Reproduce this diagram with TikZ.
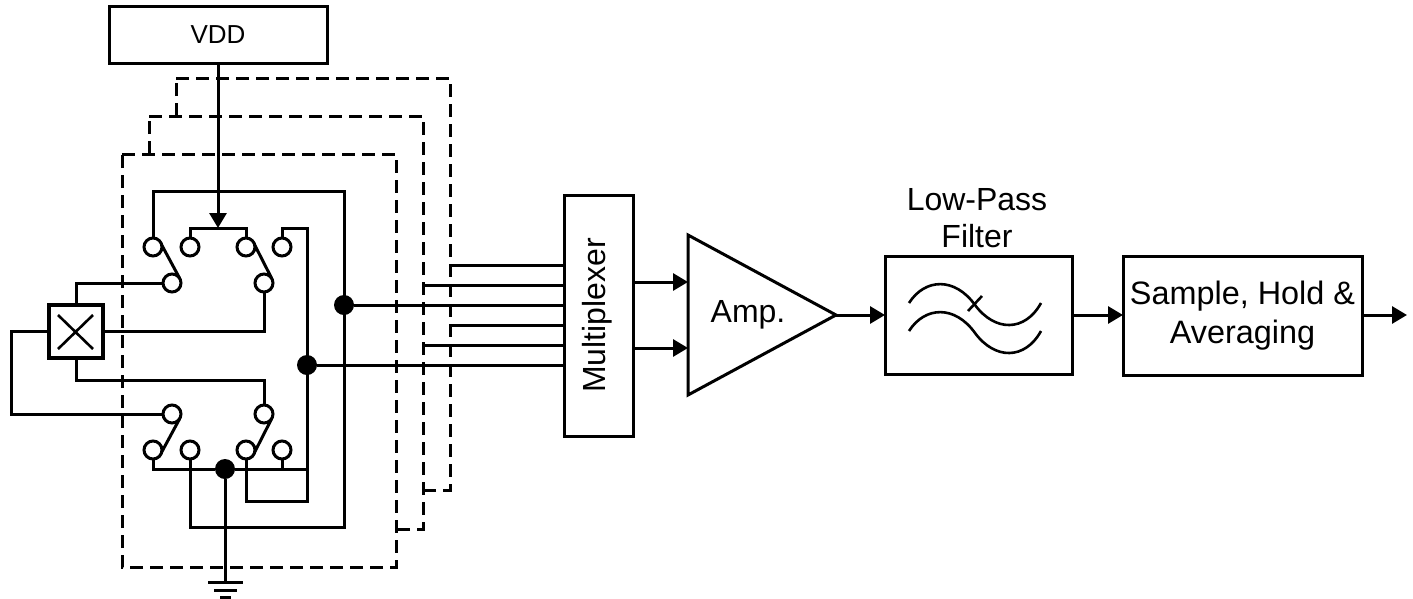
\documentclass[tikz,border=0pt]{standalone}
\usepackage{fontspec}
\setmainfont{Liberation Sans}
\usetikzlibrary{arrows.meta,calc}
\tikzset{
  wire/.style={line width=3pt,black,line join=miter},
  arrowwire/.style={wire,-{Triangle[length=15pt,width=17pt]}},
  frame/.style={line width=3pt,black,dash pattern=on 13pt off 7pt},
  blockbox/.style={draw,line width=3pt,inner sep=0pt,outer sep=0pt,align=center,font=\fontsize{32}{38}\selectfont},
  term/.style={circle,draw,fill=white,line width=3pt,minimum size=18pt,inner sep=0pt,outer sep=0pt},
  dotnode/.style={circle,fill=black,minimum size=20pt,inner sep=0pt,outer sep=0pt},
  plain/.style={inner sep=0pt,outer sep=0pt,align=center,font=\fontsize{32}{37}\selectfont}
}
\begin{document}
\begin{tikzpicture}[x=1pt,y=-1pt]
\useasboundingbox (0,0) rectangle (1413,598);

% dashed frames
\draw[frame] (176,78) -- (450,78) -- (450,490) -- (423,490);
\draw[frame] (176,116) -- (176,78);
\draw[frame] (149,116) -- (423,116) -- (423,529) -- (396,529);
\draw[frame] (149,154) -- (149,116);
\draw[frame] (122,154) -- (396,154) -- (396,567) -- (122,567) -- cycle;

% blocks
\node[blockbox,minimum width=218pt,minimum height=57pt,font=\fontsize{26}{30}\selectfont] (vdd) at (218,34.5) {VDD};
\node[blockbox,minimum width=69pt,minimum height=241pt] (mux) at (598.5,315.5) {};
\node[plain,rotate=90] (muxtext) at (597,315.5) {Multiplexer};
\node[blockbox,minimum width=187pt,minimum height=118pt] (lpf) at (978.5,315) {};
\node[blockbox,minimum width=239pt,minimum height=119pt,font=\fontsize{32.4}{39}\selectfont] (sha) at (1242.5,315.5) {Sample, Hold \&\\Averaging};
\node[plain] (lpftext) at (977,218) {Low-Pass\\Filter};
\node[draw,line width=4pt,minimum width=54pt,minimum height=53pt,inner sep=0pt,outer sep=0pt] (xb) at (76,331.5) {};

% amplifier
\coordinate (ampa) at (688,235);
\coordinate (ampb) at (688,395);
\coordinate (ampc) at (836,315);
\draw[wire] (ampa) -- (ampc) -- (ampb) -- cycle;
\node[plain] (amptext) at (748,315) {Amp.};
\coordinate (ampin1) at (688,282);
\coordinate (ampin2) at (688,348);
\coordinate (out) at (1407,315);

% terminals
\node[term] (t1) at (153,247) {};
\node[term] (t2) at (190,247) {};
\node[term] (t3) at (246,247) {};
\node[term] (t4) at (282,247) {};
\node[term] (t5) at (172,283) {};
\node[term] (t6) at (264,283) {};
\node[term] (b5) at (172,414) {};
\node[term] (b6) at (264,414) {};
\node[term] (b1) at (153,450) {};
\node[term] (b2) at (190,450) {};
\node[term] (b3) at (246,450) {};
\node[term] (b4) at (282,450) {};

% junctions and routing points
\node[dotnode] (j1) at (344,305) {};
\node[dotnode] (j2) at (307,365) {};
\node[dotnode] (j3) at (225,469) {};
\coordinate (rt) at (344,191);
\coordinate (rb) at (344,527);
\coordinate (bar) at (218,228);
\coordinate (r2t) at (307,228);
\coordinate (r2b) at (307,501);
\coordinate (gnd) at (225,582);
\coordinate (xl) at (11,331.5);
\coordinate (xbus) at (76,380.5);

% switch wiring, top
\draw[arrowwire] (vdd.south) -- (bar);
\draw[wire] (t1.north) -- (t1.north |- rt) -- (rt) -- (rb) -- (b2.south |- rb) -- (b2.south);
\draw[wire] (t2.north) -- (t2.north |- bar) -- (t3.north |- bar) -- (t3.north);
\draw[wire] (t4.north) -- (t4.north |- r2t) -- (r2t) -- (r2b) -- (b3.south |- r2b) -- (b3.south);
\draw[wire] (t1.12) -- (t5.32);
\draw[wire] (t3.12) -- (t6.32);
\draw[wire] (b5.-32) -- (b1.-12);
\draw[wire] (b6.-32) -- (b3.-12);

% crossbar
\draw[line width=2.6pt] (58,315) -- (93,349) (93,315) -- (58,349);
\draw[wire] (xb.north) -- (xb.north |- t5) -- (t5.west);
\draw[wire] (xb.east) -- (t6.south |- xb.east) -- (t6.south);
\draw[wire] (xb.west) -- (xl) -- (xl |- b5) -- (b5.west);
\draw[wire] (xb.south) -- (xbus) -- (xbus -| b6.north) -- (b6.north);

% lower bus and ground
\draw[wire] (b1.south) -- (b1.south |- j3) -- (j3);
\draw[wire] (j3) -- (r2b |- j3);
\draw[wire] (b4.south) -- (b4.south |- j3);
\draw[wire] (j3) -- (gnd);
\draw[wire] (208,582) -- (gnd) -- (243,582);
\draw[wire] (214,590) -- (237,590);
\draw[wire] (220,597) -- (231,597);

% lines to multiplexer
\coordinate (m1) at (450,265);
\coordinate (m2) at (423,285);
\coordinate (m4) at (450,325);
\coordinate (m5) at (423,345);
\draw[wire] (m1) -- (m1 -| mux.west);
\draw[wire] (m2) -- (m2 -| mux.west);
\draw[wire] (j1) -- (j1 -| mux.west);
\draw[wire] (m4) -- (m4 -| mux.west);
\draw[wire] (m5) -- (m5 -| mux.west);
\draw[wire] (j2) -- (j2 -| mux.west);

% signal chain
\draw[arrowwire] (ampin1 -| mux.east) -- (ampin1);
\draw[arrowwire] (ampin2 -| mux.east) -- (ampin2);
\draw[arrowwire] (ampc) -- (lpf.west);
\draw[arrowwire] (lpf.east) -- (sha.west |- lpf.east);
\draw[arrowwire] (sha.east |- out) -- (out);

% filter symbol
\draw[line width=2.6pt] (909,303) .. controls (925,278) and (955,277) .. (975,305) .. controls (995,332) and (1025,332) .. (1041,303);
\draw[line width=2.6pt] (909,331) .. controls (925,306) and (955,305) .. (975,333) .. controls (995,360) and (1025,360) .. (1041,331);
\draw[line width=2.6pt] (968,311) -- (982,296);
\end{tikzpicture}
\end{document}
